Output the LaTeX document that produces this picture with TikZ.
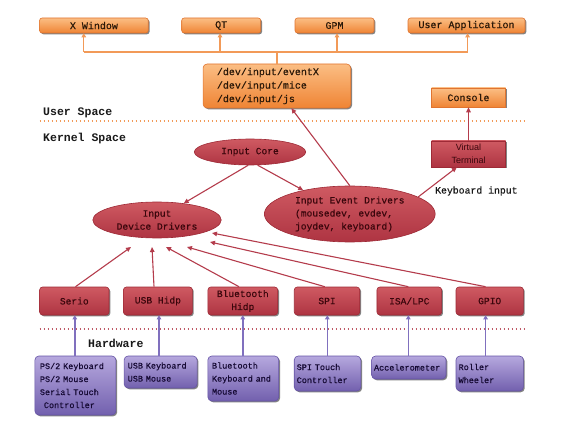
\documentclass[tikz,border=0pt]{standalone}
\usepackage{fontspec}
\setmainfont{Liberation Serif}
\setmonofont{Liberation Mono}
\newfontfamily\bmono[FakeBold=0.4]{Liberation Mono}
\newfontfamily\vtfont{Liberation Sans}
\usetikzlibrary{shapes.geometric,arrows.meta,shadows}
\definecolor{oBorder}{HTML}{E07430}
\definecolor{oTop}{HTML}{FBBE84}
\definecolor{oBot}{HTML}{EF8434}
\definecolor{oLine}{HTML}{F29A58}
\definecolor{rBorder}{HTML}{9E2A36}
\definecolor{rTop}{HTML}{CF5A62}
\definecolor{rMid}{HTML}{E8989C}
\definecolor{rBot}{HTML}{AE3442}
\definecolor{rLine}{HTML}{B43C4C}
\definecolor{pBorder}{HTML}{6654A6}
\definecolor{pTop}{HTML}{B6A8DE}
\definecolor{pBot}{HTML}{7260AE}
\definecolor{pLine}{HTML}{8070BE}
\definecolor{txtO}{HTML}{2A1808}
\definecolor{txtR}{HTML}{3A060C}
\definecolor{txtP}{HTML}{160A34}
\begin{document}
\begin{tikzpicture}[x=1pt,y=-1pt,
  shad/.style={drop shadow={shadow xshift=1.3pt,shadow yshift=-1.3pt,fill=black!65,opacity=0.75}},
  obox/.style={rectangle, draw=oBorder, line width=0.6pt, rounded corners=2.5pt,
    top color=oTop, bottom color=oBot, shad, inner sep=0pt, minimum height=15pt,
    font=\bmono\fontsize{10}{13.5}\selectfont, text=txtO},
  rell/.style={ellipse, draw=rBorder, line width=0.6pt, top color=rTop, middle color=rMid,
    bottom color=rBot, inner sep=0pt, font=\bmono\fontsize{9.6}{13}\selectfont, text=txtR},
  rbox/.style={rectangle, draw=rBorder, line width=0.6pt, rounded corners=3pt,
    top color=rTop, middle color=rMid, bottom color=rBot, shad, inner sep=0pt,
    minimum height=28pt, font=\bmono\fontsize{9.6}{13}\selectfont, text=txtR},
  pbox/.style={rectangle, draw=pBorder, line width=0.6pt, rounded corners=4pt,
    top color=pTop, bottom color=pBot, shad, inner sep=0pt, align=left,
    font=\bmono\fontsize{8.5}{13}\selectfont, text=txtP},
  lab/.style={inner sep=0pt, anchor=west, font=\ttfamily\bfseries\fontsize{11.5}{12}\selectfont, text=black!90},
  oarr/.style={draw=oLine, line width=1.3pt, -{Triangle[length=4pt,width=4.5pt]}},
  oline/.style={draw=oLine, line width=1.3pt},
  rarr/.style={draw=rLine, line width=1.1pt, -{Triangle[length=5pt,width=4.5pt]}},
  parr/.style={draw=pLine, line width=1.4pt, -{Triangle[length=4pt,width=4.5pt]}},
  odot/.style={draw=oLine, line width=1.6pt, dash pattern=on 1.6pt off 2.4pt},
  rdot/.style={draw=rLine!85, line width=1.6pt, dash pattern=on 1.6pt off 2.4pt}
]
\useasboundingbox (0,0) rectangle (564,435);

% ---------- user space ----------
\node[obox, minimum width=108.6pt] (xw) at (93.9,25.5) {X Window};
\node[obox, minimum width=79pt] (qt) at (221.2,25.5) {QT};
\node[obox, minimum width=79pt] (gpm) at (334.5,25.5) {GPM};
\node[obox, minimum width=117pt] (ua) at (466.5,25.5) {User Application};
\node[obox, minimum width=147.7pt, minimum height=44pt, rounded corners=4pt,
      text width=120pt, align=left] (dev) at (276.9,86)
      {/dev/input/eventX\\/dev/input/mice\\/dev/input/js};
\node[obox, rounded corners=0pt, minimum width=74pt, minimum height=19pt] (con) at (468.5,97.5) {Console};

\coordinate (b1) at (83.8,52);
\coordinate (b2) at (220,52);
\coordinate (b3) at (337,52);
\coordinate (b4) at (467.6,52);
\draw[oline] (b1) -- (b4);
\draw[oline] (dev.north) -- (dev.north |- b1);
\draw[oarr] (b1) -- (b1 |- xw.south);
\draw[oarr] (b2) -- (b2 |- qt.south);
\draw[oarr] (b3) -- (b3 |- gpm.south);
\draw[oarr] (b4) -- (b4 |- ua.south);

\node[lab] (us) at (43,113) {User Space};
\coordinate (d1) at (39.6,121);
\coordinate (d2) at (525,121);
\draw[odot] (d1) -- (d2);
\node[lab] (ks) at (43,139) {Kernel Space};

% ---------- kernel space ----------
\node[rell, minimum width=111.5pt, minimum height=26pt] (core) at (250,152) {Input Core};
\node[rell, minimum width=170.8pt, minimum height=56pt, align=left] (ied) at (349.8,214)
      {Input Event Drivers\\(mousedev, evdev,\\joydev, keyboard)};
\node[rell, minimum width=128.4pt, minimum height=36pt, align=center] (idd) at (157,220)
      {Input\\Device Drivers};
\node[rbox, rounded corners=0pt, minimum width=74pt, minimum height=26pt,
      font=\vtfont\fontsize{9}{13}\selectfont, align=center] (vt) at (468.5,154) {Virtual\\Terminal};

\draw[rarr] (core.262) -- (idd.32);
\draw[rarr] (core.300) -- (ied.153);
\draw[rarr] (ied.north) -- ([xshift=14.5pt]dev.south);
\draw[rarr] (ied.14) -- ([xshift=-11.7pt]vt.south);
\draw[rarr] (vt.north) -- (con.south);
\node[inner sep=0pt, anchor=west, font=\bmono\fontsize{9.8}{12}\selectfont, text=black!90] (kb) at (435,191) {Keyboard input};

\node[rbox, minimum width=69.4pt] (serio) at (74.3,301) {Serio};
\node[rbox, minimum width=69pt] (usb) at (157.9,301) {USB Hidp};
\node[rbox, minimum width=69.8pt, align=center] (bt) at (242.8,301) {Bluetooth\\Hidp};
\node[rbox, minimum width=65.5pt] (spi) at (327,301) {SPI};
\node[rbox, minimum width=64.7pt] (isa) at (409.3,301) {ISA/LPC};
\node[rbox, minimum width=67.4pt] (gpio) at (489.7,301) {GPIO};

\coordinate (t1) at ([shift={(-26,27)}]idd.center);
\coordinate (t2) at ([shift={(-5,27)}]idd.center);
\coordinate (t3) at ([shift={(9,27)}]idd.center);
\coordinate (t4) at ([shift={(30,27)}]idd.center);
\coordinate (t5) at ([shift={(53,22)}]idd.center);
\coordinate (t6) at ([shift={(55,13)}]idd.center);
\draw[rarr] ([xshift=1.2pt]serio.north) -- (t1);
\draw[rarr] ([xshift=-3.9pt]usb.north) -- (t2);
\draw[rarr] ([xshift=-3.8pt]bt.north) -- (t3);
\draw[rarr] ([xshift=-2.2pt]spi.north) -- (t4);
\draw[rarr] ([xshift=-1pt]isa.north) -- (t5);
\draw[rarr] ([xshift=-4.1pt]gpio.north) -- (t6);

% ---------- hardware ----------
\coordinate (e1) at (39.6,329);
\coordinate (e2) at (525,329);
\draw[rdot] (e1) -- (e2);
\node[lab] (hw) at (88,343) {Hardware};

\node[pbox, minimum width=81pt, minimum height=59pt, text width=71pt] (ps2) at (75.4,385.5)
      {PS/2 Keyboard\\PS/2 Mouse\\Serial Touch\\\hspace*{4pt}Controller};
\node[pbox, minimum width=73pt, minimum height=32pt, text width=65.8pt] (usbk) at (160.6,372)
      {USB Keyboard\\USB Mouse};
\node[pbox, minimum width=70.9pt, minimum height=45pt, text width=62.6pt] (btk) at (243.3,378.5)
      {Bluetooth\\Keyboard and\\Mouse};
\node[pbox, minimum width=66.6pt, minimum height=35pt, text width=61.6pt] (spit) at (327.5,373.5)
      {SPI Touch\\Controller};
\node[pbox, minimum width=74.4pt, minimum height=23pt, text width=69.6pt] (acc) at (408.8,367.5)
      {Accelerometer};
\node[pbox, minimum width=67.4pt, minimum height=35pt, text width=62.2pt] (roll) at (489.7,373.5)
      {Roller\\Wheeler};

\coordinate (v1) at (74.8,0);
\coordinate (v2) at (159,0);
\coordinate (v3) at (242.8,0);
\coordinate (v4) at (327.3,0);
\coordinate (v5) at (408.3,0);
\coordinate (v6) at (485.6,0);
\draw[parr] (ps2.north -| v1) -- (serio.south -| v1);
\draw[parr] (usbk.north -| v2) -- (usb.south -| v2);
\draw[parr] (btk.north -| v3) -- (bt.south -| v3);
\draw[parr] (spit.north -| v4) -- (spi.south -| v4);
\draw[parr] (acc.north -| v5) -- (isa.south -| v5);
\draw[parr] (roll.north -| v6) -- (gpio.south -| v6);
\end{tikzpicture}
\end{document}
